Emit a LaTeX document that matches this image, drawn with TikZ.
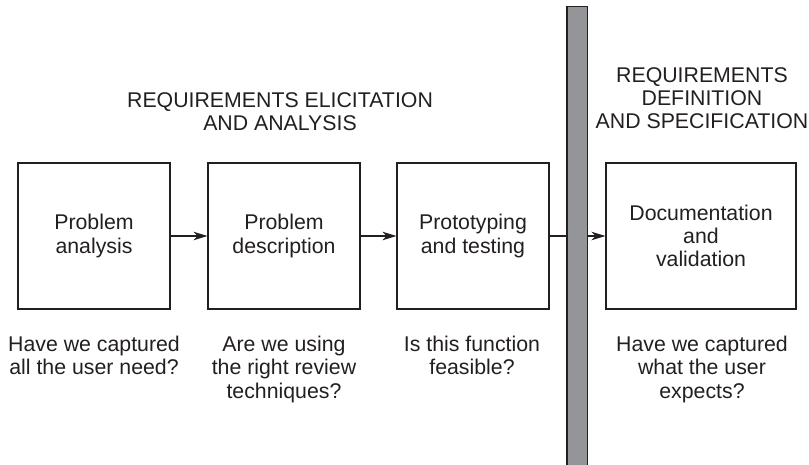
\documentclass[tikz,border=0pt]{standalone}
\usepackage{fontspec}
\setmainfont{Liberation Sans}
\usetikzlibrary{arrows.meta}
\definecolor{ink}{HTML}{231F20}
\definecolor{barfill}{HTML}{939598}
\begin{document}
\begin{tikzpicture}[x=1pt,y=-1pt,
  every node/.style={text=ink,font=\fontsize{21.3}{23.2}\selectfont,align=center},
  stage/.style={draw=ink,line width=1.1pt,minimum width=152pt,minimum height=146pt,inner sep=0pt},
  label/.style={anchor=north,inner sep=0pt},
  arr/.style={draw=ink,line width=1.1pt,-{Stealth[length=14pt,width=8.5pt,inset=4pt]}}]
\useasboundingbox (0,0) rectangle (809,464);
\node[stage] (b1) at (94,236) {Problem\\analysis};
\node[stage] (b2) at (284,236) {Problem\\description};
\node[stage] (b3) at (473,236) {Prototyping\\and testing};
\node[stage,minimum width=190pt] (b4) at (701,236) {Documentation\\and\\validation};
\draw[arr] (b1) -- (b2);
\draw[arr] (b2) -- (b3);
\draw[arr] (b3) -- (b4);
\filldraw[fill=barfill,draw=ink,line width=1.1pt] (567,470) -- (567,6.5) -- (587.5,6.5) -- (587.5,470);
\node[label] (t1) at (280,92) {REQUIREMENTS ELICITATION\\AND ANALYSIS};
\node[label] (t2) at (702,67) {REQUIREMENTS\\DEFINITION\\AND SPECIFICATION};
\node[label] (q1) at (94,336) {Have we captured\\all the user need?};
\node[label] (q2) at (284,336) {Are we using\\the right review\\techniques?};
\node[label] (q3) at (472,336) {Is this function\\feasible?};
\node[label] (q4) at (702,336) {Have we captured\\what the user\\expects?};
\end{tikzpicture}
\end{document}
